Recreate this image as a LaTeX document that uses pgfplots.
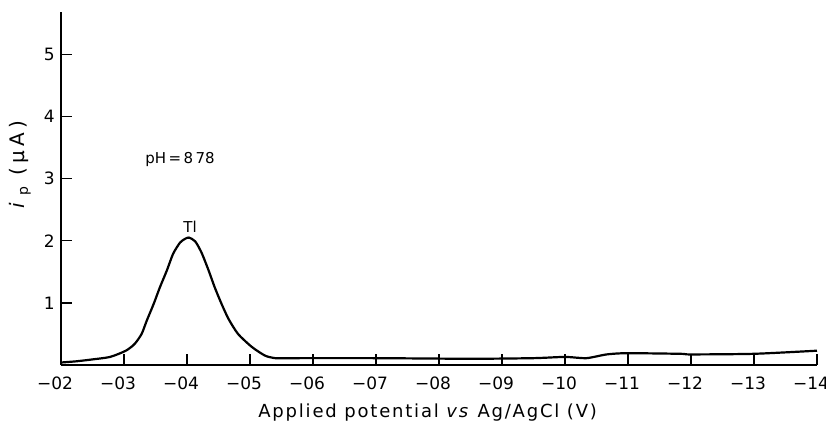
\documentclass[border=0pt]{standalone}
\usepackage{pgfplots}
\pgfplotsset{compat=1.18}
\usepackage{fontspec}
\setmainfont{DejaVu Sans}
\newfontfamily\spaced[LetterSpace=10]{DejaVu Sans}
\newfontfamily\wide[LetterSpace=20]{DejaVu Sans}

% polarogram, Tl peak at pH 8.78
\pgfplotstableread{
x      y
-0.200 0.04
-0.225 0.06
-0.250 0.09
-0.278 0.13
-0.303 0.23
-0.317 0.34
-0.328 0.50
-0.336 0.71
-0.347 0.98
-0.357 1.25
-0.368 1.52
-0.378 1.79
-0.389 1.97
-0.397 2.03
-0.403 2.05
-0.413 1.99
-0.423 1.81
-0.434 1.53
-0.444 1.25
-0.455 0.98
-0.466 0.74
-0.481 0.50
-0.503 0.29
-0.524 0.15
-0.540 0.11
-0.556 0.11
-0.700 0.11
-0.850 0.10
-0.950 0.11
-1.000 0.13
-1.034 0.11
-1.066 0.17
-1.098 0.19
-1.183 0.18
-1.200 0.17
-1.300 0.18
-1.400 0.23
}\curve

\begin{document}
\begin{tikzpicture}
\begin{axis}[
    scale only axis,
    width=378pt,
    height=176.5pt,
    xmin=-1.4, xmax=-0.2,
    ymin=0, ymax=5.68,
    x dir=reverse,
    axis lines=left,
    axis line style={-, line width=0.9pt},
    tick align=inside,
    major tick length=5.5pt,
    tick style={black, line width=0.7pt},
    xtick={-0.2,-0.3,-0.4,-0.5,-0.6,-0.7,-0.8,-0.9,-1.0,-1.1,-1.2,-1.3,-1.4},
    xticklabels={−02,−03,−04,−05,−06,−07,−08,−09,−10,−11,−12,−13,−14},
    ytick={1,2,3,4,5},
    yticklabels={1,2,3,4,5},
    ticklabel style={font=\fontsize{8.5}{9}\selectfont, inner sep=0pt},
    xticklabel style={anchor=center, yshift=-9pt, xshift=-3pt},
    yticklabel style={anchor=east, xshift=-3pt},
    xlabel={{\spaced Applied potential \textit{vs} Ag/AgCl (V)}},
    xlabel style={font=\fontsize{9}{10}\selectfont, at={(axis description cs:0.485,0)}, anchor=center, yshift=-24pt},
    ylabel={{\wide\textit{i}\hspace{2pt}\textsubscript{p}\hspace{5pt}(µA)}},
    ylabel style={font=\fontsize{10}{11}\selectfont, at={(axis description cs:-0.054,0.567)}, anchor=center},
    clip=false,
]
\addplot[black, line width=1.1pt, smooth, tension=0.4] table[x=x, y=y] {\curve};
\node[font=\fontsize{7.5}{8}\selectfont] at (axis cs:-0.389,3.31) {pH\,=\,8\,78};
\node[font=\fontsize{7.5}{8}\selectfont] at (axis cs:-0.405,2.22) {Tl};
\end{axis}
\pgfresetboundingbox
\path[use as bounding box] (-30.5pt,-28.5pt) rectangle (382.5pt,182.5pt);
\end{tikzpicture}
\end{document}
